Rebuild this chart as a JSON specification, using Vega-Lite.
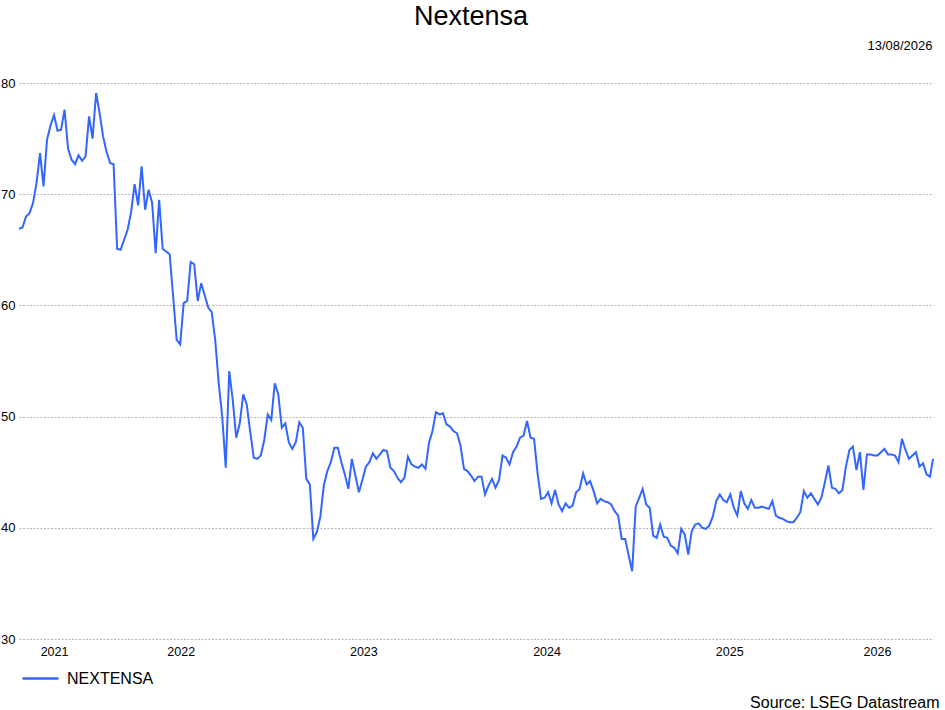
{
  "$schema": "https://vega.github.io/schema/vega-lite/v6.json",
  "description": "Nextensa weekly share price, Aug 2021 - Aug 2026.",
  "width": 914,
  "height": 556,
  "autosize": "none",
  "padding": {"left": 19, "top": 83, "right": 12, "bottom": 71},
  "title": {
    "text": "Nextensa",
    "fontSize": 27,
    "fontWeight": "normal",
    "color": "#000000",
    "anchor": "middle",
    "dx": -5,
    "offset": 8
  },
  "data": {
    "values": [
      {"date": "2021-08-13", "price": 66.9},
      {"date": "2021-08-20", "price": 67.0},
      {"date": "2021-08-27", "price": 68.0},
      {"date": "2021-09-03", "price": 68.3},
      {"date": "2021-09-10", "price": 69.2},
      {"date": "2021-09-17", "price": 71.0},
      {"date": "2021-09-24", "price": 73.7},
      {"date": "2021-10-01", "price": 70.7},
      {"date": "2021-10-08", "price": 74.9},
      {"date": "2021-10-15", "price": 76.2},
      {"date": "2021-10-22", "price": 77.1},
      {"date": "2021-10-29", "price": 75.7},
      {"date": "2021-11-05", "price": 75.8},
      {"date": "2021-11-12", "price": 77.6},
      {"date": "2021-11-19", "price": 74.1},
      {"date": "2021-11-26", "price": 73.1},
      {"date": "2021-12-03", "price": 72.7},
      {"date": "2021-12-10", "price": 73.5},
      {"date": "2021-12-17", "price": 73.0},
      {"date": "2021-12-24", "price": 73.4},
      {"date": "2021-12-31", "price": 77.0},
      {"date": "2022-01-07", "price": 75.0},
      {"date": "2022-01-14", "price": 79.1},
      {"date": "2022-01-21", "price": 77.3},
      {"date": "2022-01-28", "price": 75.2},
      {"date": "2022-02-04", "price": 73.8},
      {"date": "2022-02-11", "price": 72.8},
      {"date": "2022-02-18", "price": 72.7},
      {"date": "2022-02-25", "price": 65.1},
      {"date": "2022-03-04", "price": 65.0},
      {"date": "2022-03-18", "price": 66.8},
      {"date": "2022-03-25", "price": 68.4},
      {"date": "2022-04-01", "price": 70.9},
      {"date": "2022-04-08", "price": 69.0},
      {"date": "2022-04-15", "price": 72.5},
      {"date": "2022-04-22", "price": 68.6},
      {"date": "2022-04-29", "price": 70.4},
      {"date": "2022-05-06", "price": 69.2},
      {"date": "2022-05-13", "price": 64.7},
      {"date": "2022-05-20", "price": 69.5},
      {"date": "2022-05-27", "price": 65.1},
      {"date": "2022-06-10", "price": 64.6},
      {"date": "2022-06-24", "price": 56.9},
      {"date": "2022-07-01", "price": 56.5},
      {"date": "2022-07-08", "price": 60.2},
      {"date": "2022-07-15", "price": 60.4},
      {"date": "2022-07-22", "price": 63.9},
      {"date": "2022-07-29", "price": 63.7},
      {"date": "2022-08-05", "price": 60.4},
      {"date": "2022-08-12", "price": 62.0},
      {"date": "2022-08-26", "price": 59.8},
      {"date": "2022-09-02", "price": 59.4},
      {"date": "2022-09-09", "price": 56.9},
      {"date": "2022-09-16", "price": 53.0},
      {"date": "2022-09-23", "price": 50.0},
      {"date": "2022-09-30", "price": 45.4},
      {"date": "2022-10-07", "price": 54.1},
      {"date": "2022-10-14", "price": 51.5},
      {"date": "2022-10-21", "price": 48.1},
      {"date": "2022-10-28", "price": 49.4},
      {"date": "2022-11-04", "price": 52.0},
      {"date": "2022-11-11", "price": 51.1},
      {"date": "2022-11-18", "price": 48.6},
      {"date": "2022-11-25", "price": 46.3},
      {"date": "2022-12-02", "price": 46.2},
      {"date": "2022-12-09", "price": 46.5},
      {"date": "2022-12-16", "price": 47.9},
      {"date": "2022-12-23", "price": 50.2},
      {"date": "2022-12-30", "price": 49.7},
      {"date": "2023-01-06", "price": 53.0},
      {"date": "2023-01-13", "price": 52.0},
      {"date": "2023-01-20", "price": 49.0},
      {"date": "2023-01-27", "price": 49.4},
      {"date": "2023-02-03", "price": 47.7},
      {"date": "2023-02-10", "price": 47.1},
      {"date": "2023-02-17", "price": 47.7},
      {"date": "2023-02-24", "price": 49.5},
      {"date": "2023-03-03", "price": 49.0},
      {"date": "2023-03-10", "price": 44.4},
      {"date": "2023-03-17", "price": 43.9},
      {"date": "2023-03-24", "price": 39.0},
      {"date": "2023-03-31", "price": 39.6},
      {"date": "2023-04-07", "price": 41.0},
      {"date": "2023-04-14", "price": 43.8},
      {"date": "2023-04-21", "price": 45.1},
      {"date": "2023-04-28", "price": 45.9},
      {"date": "2023-05-05", "price": 47.2},
      {"date": "2023-05-12", "price": 47.2},
      {"date": "2023-05-19", "price": 45.9},
      {"date": "2023-05-26", "price": 44.8},
      {"date": "2023-06-02", "price": 43.5},
      {"date": "2023-06-09", "price": 46.2},
      {"date": "2023-06-16", "price": 44.7},
      {"date": "2023-06-23", "price": 43.2},
      {"date": "2023-06-30", "price": 44.3},
      {"date": "2023-07-07", "price": 45.5},
      {"date": "2023-07-14", "price": 45.9},
      {"date": "2023-07-21", "price": 46.7},
      {"date": "2023-07-28", "price": 46.2},
      {"date": "2023-08-04", "price": 46.6},
      {"date": "2023-08-11", "price": 47.0},
      {"date": "2023-08-18", "price": 46.9},
      {"date": "2023-08-25", "price": 45.4},
      {"date": "2023-09-01", "price": 45.1},
      {"date": "2023-09-08", "price": 44.5},
      {"date": "2023-09-15", "price": 44.1},
      {"date": "2023-09-22", "price": 44.5},
      {"date": "2023-09-29", "price": 46.4},
      {"date": "2023-10-06", "price": 45.7},
      {"date": "2023-10-13", "price": 45.5},
      {"date": "2023-10-20", "price": 45.4},
      {"date": "2023-10-27", "price": 45.7},
      {"date": "2023-11-03", "price": 45.3},
      {"date": "2023-11-10", "price": 47.6},
      {"date": "2023-11-17", "price": 48.7},
      {"date": "2023-11-24", "price": 50.4},
      {"date": "2023-12-01", "price": 50.2},
      {"date": "2023-12-08", "price": 50.3},
      {"date": "2023-12-15", "price": 49.3},
      {"date": "2023-12-22", "price": 49.1},
      {"date": "2023-12-29", "price": 48.7},
      {"date": "2024-01-05", "price": 48.5},
      {"date": "2024-01-12", "price": 47.4},
      {"date": "2024-01-19", "price": 45.3},
      {"date": "2024-01-26", "price": 45.1},
      {"date": "2024-02-02", "price": 44.7},
      {"date": "2024-02-09", "price": 44.2},
      {"date": "2024-02-16", "price": 44.6},
      {"date": "2024-02-23", "price": 44.6},
      {"date": "2024-03-01", "price": 43.0},
      {"date": "2024-03-08", "price": 43.8},
      {"date": "2024-03-15", "price": 44.4},
      {"date": "2024-03-22", "price": 43.6},
      {"date": "2024-03-29", "price": 44.3},
      {"date": "2024-04-05", "price": 46.5},
      {"date": "2024-04-12", "price": 46.3},
      {"date": "2024-04-19", "price": 45.7},
      {"date": "2024-04-26", "price": 46.8},
      {"date": "2024-05-03", "price": 47.3},
      {"date": "2024-05-10", "price": 48.1},
      {"date": "2024-05-17", "price": 48.3},
      {"date": "2024-05-24", "price": 49.6},
      {"date": "2024-05-31", "price": 48.1},
      {"date": "2024-06-07", "price": 48.0},
      {"date": "2024-06-14", "price": 44.9},
      {"date": "2024-06-21", "price": 42.6},
      {"date": "2024-06-28", "price": 42.7},
      {"date": "2024-07-05", "price": 43.2},
      {"date": "2024-07-12", "price": 42.2},
      {"date": "2024-07-19", "price": 43.4},
      {"date": "2024-07-26", "price": 42.1},
      {"date": "2024-08-02", "price": 41.5},
      {"date": "2024-08-09", "price": 42.2},
      {"date": "2024-08-16", "price": 41.8},
      {"date": "2024-08-23", "price": 42.0},
      {"date": "2024-08-30", "price": 43.2},
      {"date": "2024-09-06", "price": 43.5},
      {"date": "2024-09-13", "price": 44.9},
      {"date": "2024-09-20", "price": 43.9},
      {"date": "2024-09-27", "price": 44.2},
      {"date": "2024-10-04", "price": 43.3},
      {"date": "2024-10-11", "price": 42.2},
      {"date": "2024-10-18", "price": 42.6},
      {"date": "2024-10-25", "price": 42.4},
      {"date": "2024-11-01", "price": 42.3},
      {"date": "2024-11-08", "price": 42.1},
      {"date": "2024-11-15", "price": 41.5},
      {"date": "2024-11-22", "price": 41.1},
      {"date": "2024-11-29", "price": 39.0},
      {"date": "2024-12-06", "price": 39.0},
      {"date": "2024-12-13", "price": 37.5},
      {"date": "2024-12-20", "price": 36.1},
      {"date": "2024-12-27", "price": 41.9},
      {"date": "2025-01-03", "price": 42.7},
      {"date": "2025-01-10", "price": 43.5},
      {"date": "2025-01-17", "price": 42.1},
      {"date": "2025-01-24", "price": 41.8},
      {"date": "2025-01-31", "price": 39.3},
      {"date": "2025-02-07", "price": 39.1},
      {"date": "2025-02-14", "price": 40.3},
      {"date": "2025-02-21", "price": 39.2},
      {"date": "2025-02-28", "price": 39.1},
      {"date": "2025-03-07", "price": 38.4},
      {"date": "2025-03-14", "price": 38.2},
      {"date": "2025-03-21", "price": 37.7},
      {"date": "2025-03-28", "price": 39.9},
      {"date": "2025-04-04", "price": 39.4},
      {"date": "2025-04-11", "price": 37.6},
      {"date": "2025-04-18", "price": 39.7},
      {"date": "2025-04-25", "price": 40.3},
      {"date": "2025-05-02", "price": 40.4},
      {"date": "2025-05-09", "price": 40.0},
      {"date": "2025-05-16", "price": 39.9},
      {"date": "2025-05-23", "price": 40.2},
      {"date": "2025-05-30", "price": 41.0},
      {"date": "2025-06-06", "price": 42.4},
      {"date": "2025-06-13", "price": 43.0},
      {"date": "2025-06-20", "price": 42.5},
      {"date": "2025-06-27", "price": 42.3},
      {"date": "2025-07-04", "price": 43.0},
      {"date": "2025-07-11", "price": 41.8},
      {"date": "2025-07-18", "price": 41.1},
      {"date": "2025-07-25", "price": 43.3},
      {"date": "2025-08-01", "price": 42.2},
      {"date": "2025-08-08", "price": 41.7},
      {"date": "2025-08-15", "price": 42.5},
      {"date": "2025-08-22", "price": 41.8},
      {"date": "2025-08-29", "price": 41.8},
      {"date": "2025-09-05", "price": 41.9},
      {"date": "2025-09-12", "price": 41.8},
      {"date": "2025-09-19", "price": 41.7},
      {"date": "2025-09-26", "price": 42.4},
      {"date": "2025-10-03", "price": 41.1},
      {"date": "2025-10-10", "price": 40.9},
      {"date": "2025-10-17", "price": 40.8},
      {"date": "2025-10-24", "price": 40.6},
      {"date": "2025-10-31", "price": 40.5},
      {"date": "2025-11-07", "price": 40.5},
      {"date": "2025-11-14", "price": 40.9},
      {"date": "2025-11-21", "price": 41.4},
      {"date": "2025-11-28", "price": 43.3},
      {"date": "2025-12-05", "price": 42.7},
      {"date": "2025-12-12", "price": 43.1},
      {"date": "2025-12-19", "price": 42.6},
      {"date": "2025-12-26", "price": 42.1},
      {"date": "2026-01-02", "price": 42.7},
      {"date": "2026-01-09", "price": 44.1},
      {"date": "2026-01-16", "price": 45.6},
      {"date": "2026-01-23", "price": 43.6},
      {"date": "2026-01-30", "price": 43.5},
      {"date": "2026-02-06", "price": 43.1},
      {"date": "2026-02-13", "price": 43.4},
      {"date": "2026-02-20", "price": 45.5},
      {"date": "2026-02-27", "price": 47.0},
      {"date": "2026-03-06", "price": 47.3},
      {"date": "2026-03-13", "price": 45.2},
      {"date": "2026-03-20", "price": 46.8},
      {"date": "2026-03-27", "price": 43.4},
      {"date": "2026-04-03", "price": 46.6},
      {"date": "2026-04-10", "price": 46.6},
      {"date": "2026-04-17", "price": 46.5},
      {"date": "2026-04-24", "price": 46.5},
      {"date": "2026-05-01", "price": 46.8},
      {"date": "2026-05-08", "price": 47.1},
      {"date": "2026-05-15", "price": 46.6},
      {"date": "2026-05-22", "price": 46.6},
      {"date": "2026-05-29", "price": 46.5},
      {"date": "2026-06-05", "price": 45.9},
      {"date": "2026-06-12", "price": 48.0},
      {"date": "2026-06-19", "price": 47.0},
      {"date": "2026-06-26", "price": 46.2},
      {"date": "2026-07-03", "price": 46.5},
      {"date": "2026-07-10", "price": 46.8},
      {"date": "2026-07-17", "price": 45.5},
      {"date": "2026-07-24", "price": 45.8},
      {"date": "2026-07-31", "price": 44.8},
      {"date": "2026-08-07", "price": 44.6},
      {"date": "2026-08-13", "price": 46.2}
    ]
  },
  "layer": [
    {
      "mark": {"type": "line", "strokeWidth": 2},
      "encoding": {
        "x": {
          "field": "date",
          "type": "temporal",
          "scale": {
            "domain": [
              {"year": 2021, "month": 8, "date": 13},
              {"year": 2026, "month": 8, "date": 13}
            ]
          },
          "axis": {
            "orient": "bottom",
            "values": [
              {"year": 2021, "month": 10, "date": 22},
              {"year": 2022, "month": 7, "date": 2},
              {"year": 2023, "month": 7, "date": 2},
              {"year": 2024, "month": 7, "date": 2},
              {"year": 2025, "month": 7, "date": 2},
              {"year": 2026, "month": 4, "date": 23}
            ],
            "format": "%Y",
            "grid": false,
            "ticks": false,
            "domain": false,
            "labelFlush": false,
            "labelOverlap": false,
            "labelFontSize": 12.5,
            "labelColor": "#000000",
            "labelPadding": 6,
            "title": "Source: LSEG Datastream",
            "titleFontSize": 16,
            "titleFontWeight": "normal",
            "titleColor": "#000000",
            "titleAlign": "right",
            "titleAnchor": "end",
            "titleBaseline": "alphabetic",
            "titleX": 920,
            "titleY": 68
          }
        },
        "y": {
          "field": "price",
          "type": "quantitative",
          "scale": {"domain": [30, 80], "nice": false, "zero": false},
          "axis": {
            "values": [30, 40, 50, 60, 70, 80],
            "grid": true,
            "gridColor": "#b4b4b4",
            "gridDash": [2, 1.5],
            "gridWidth": 1,
            "ticks": false,
            "domain": false,
            "labelFontSize": 13,
            "labelColor": "#000000",
            "labelPadding": 4,
            "title": null
          }
        },
        "color": {
          "datum": "NEXTENSA",
          "scale": {"range": ["#3366ff"]},
          "legend": {
            "title": null,
            "orient": "none",
            "legendX": 2,
            "legendY": 576,
            "padding": 0,
            "symbolType": "stroke",
            "symbolSize": 1300,
            "symbolStrokeWidth": 2.5,
            "labelFontSize": 16,
            "labelColor": "#000000",
            "labelOffset": 7
          }
        }
      }
    },
    {
      "mark": {"type": "line", "opacity": 0},
      "encoding": {
        "x": {
          "field": "date",
          "type": "temporal",
          "axis": {
            "orient": "top",
            "labels": false,
            "ticks": false,
            "domain": false,
            "grid": false,
            "title": "13/08/2026",
            "titleFontSize": 13,
            "titleFontWeight": "normal",
            "titleColor": "#000000",
            "titleAlign": "right",
            "titleAnchor": "end",
            "titleBaseline": "alphabetic",
            "titleX": 913,
            "titleY": -34
          }
        },
        "y": {"field": "price", "type": "quantitative"}
      }
    }
  ],
  "resolve": {"axis": {"x": "independent"}},
  "config": {
    "font": "Liberation Sans",
    "view": {"stroke": null}
  }
}
